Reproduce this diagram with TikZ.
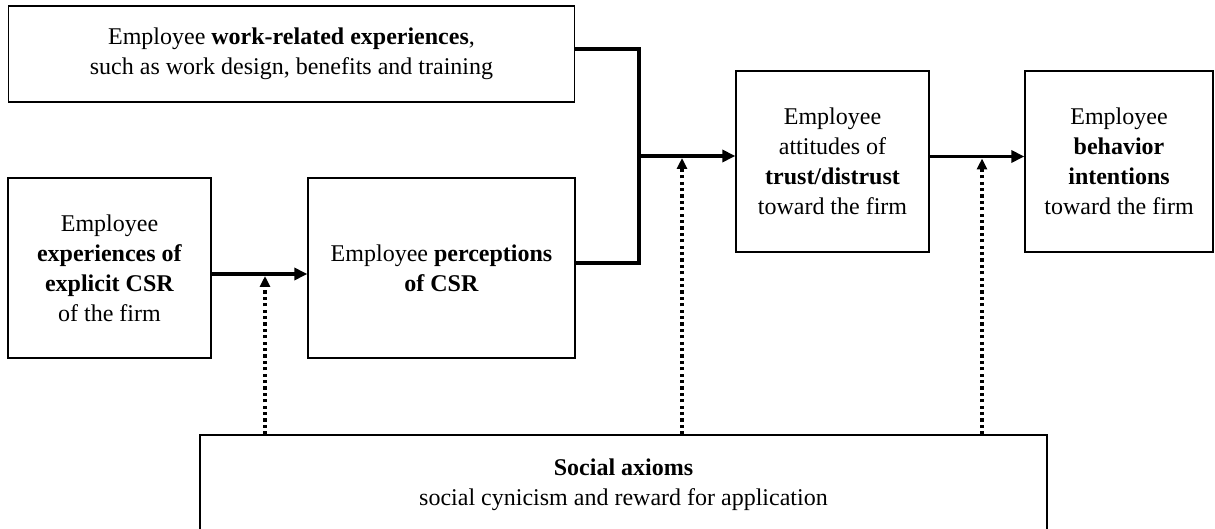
\documentclass[tikz,border=0pt]{standalone}
\usepackage{fontspec}
\setmainfont{Liberation Serif}
\usetikzlibrary{arrows.meta}
\begin{document}
\begin{tikzpicture}[x=1pt,y=-1pt,
  box/.style={draw, line width=1.3pt, align=center, inner sep=0pt, font=\fontsize{24}{30}\selectfont},
  link/.style={line width=3.8pt},
  arr/.style={line width=3.8pt, -{Triangle[length=13pt,width=12pt]}},
  dotarr/.style={line width=3.4pt, dash pattern=on 3.2pt off 3.2pt, -{Triangle[length=11pt,width=10pt]}}]
\useasboundingbox (0,0) rectangle (1215,529);
\node[box, minimum width=566pt, minimum height=96pt] (work) at (291.5,54)
  {Employee \textbf{work-related experiences},\\ such as work design, benefits and training};
\node[box, minimum width=203pt, minimum height=180pt] (exp) at (109.5,268)
  {Employee\\ \textbf{experiences of}\\ \textbf{explicit CSR}\\ of the firm};
\node[box, minimum width=267pt, minimum height=180pt] (perc) at (441.5,268)
  {Employee \textbf{perceptions}\\ \textbf{of CSR}};
\node[box, minimum width=193pt, minimum height=181pt] (trust) at (832.5,161.5)
  {Employee\\ attitudes of\\ \textbf{trust/distrust}\\ toward the firm};
\node[box, minimum width=188pt, minimum height=181pt] (beh) at (1119,161.5)
  {Employee\\ \textbf{behavior}\\ \textbf{intentions}\\ toward the firm};
\node[box, minimum width=847pt, minimum height=100pt] (soc) at (623.5,485)
  {\textbf{Social axioms}\\ social cynicism and reward for application};
\coordinate (bus) at (639,156);
\coordinate (m1) at (265,274);
\coordinate (m2) at (682,156);
\coordinate (m3) at (982,156.5);
\draw[link] ([yshift=5pt]work.east) -| (bus) |- ([yshift=5pt]perc.east);
\draw[arr] (bus) -- (trust.west |- bus);
\draw[arr] ([yshift=-6pt]exp.east) -- ([yshift=-6pt]perc.west);
\draw[arr] ([yshift=5pt]trust.east) -- ([yshift=5pt]beh.west);
\draw[dotarr] (soc.north -| m1) -- ([yshift=-2pt]m1);
\draw[dotarr] (soc.north -| m2) -- ([yshift=-2pt]m2);
\draw[dotarr] (soc.north -| m3) -- ([yshift=-2pt]m3);
\end{tikzpicture}
\end{document}
